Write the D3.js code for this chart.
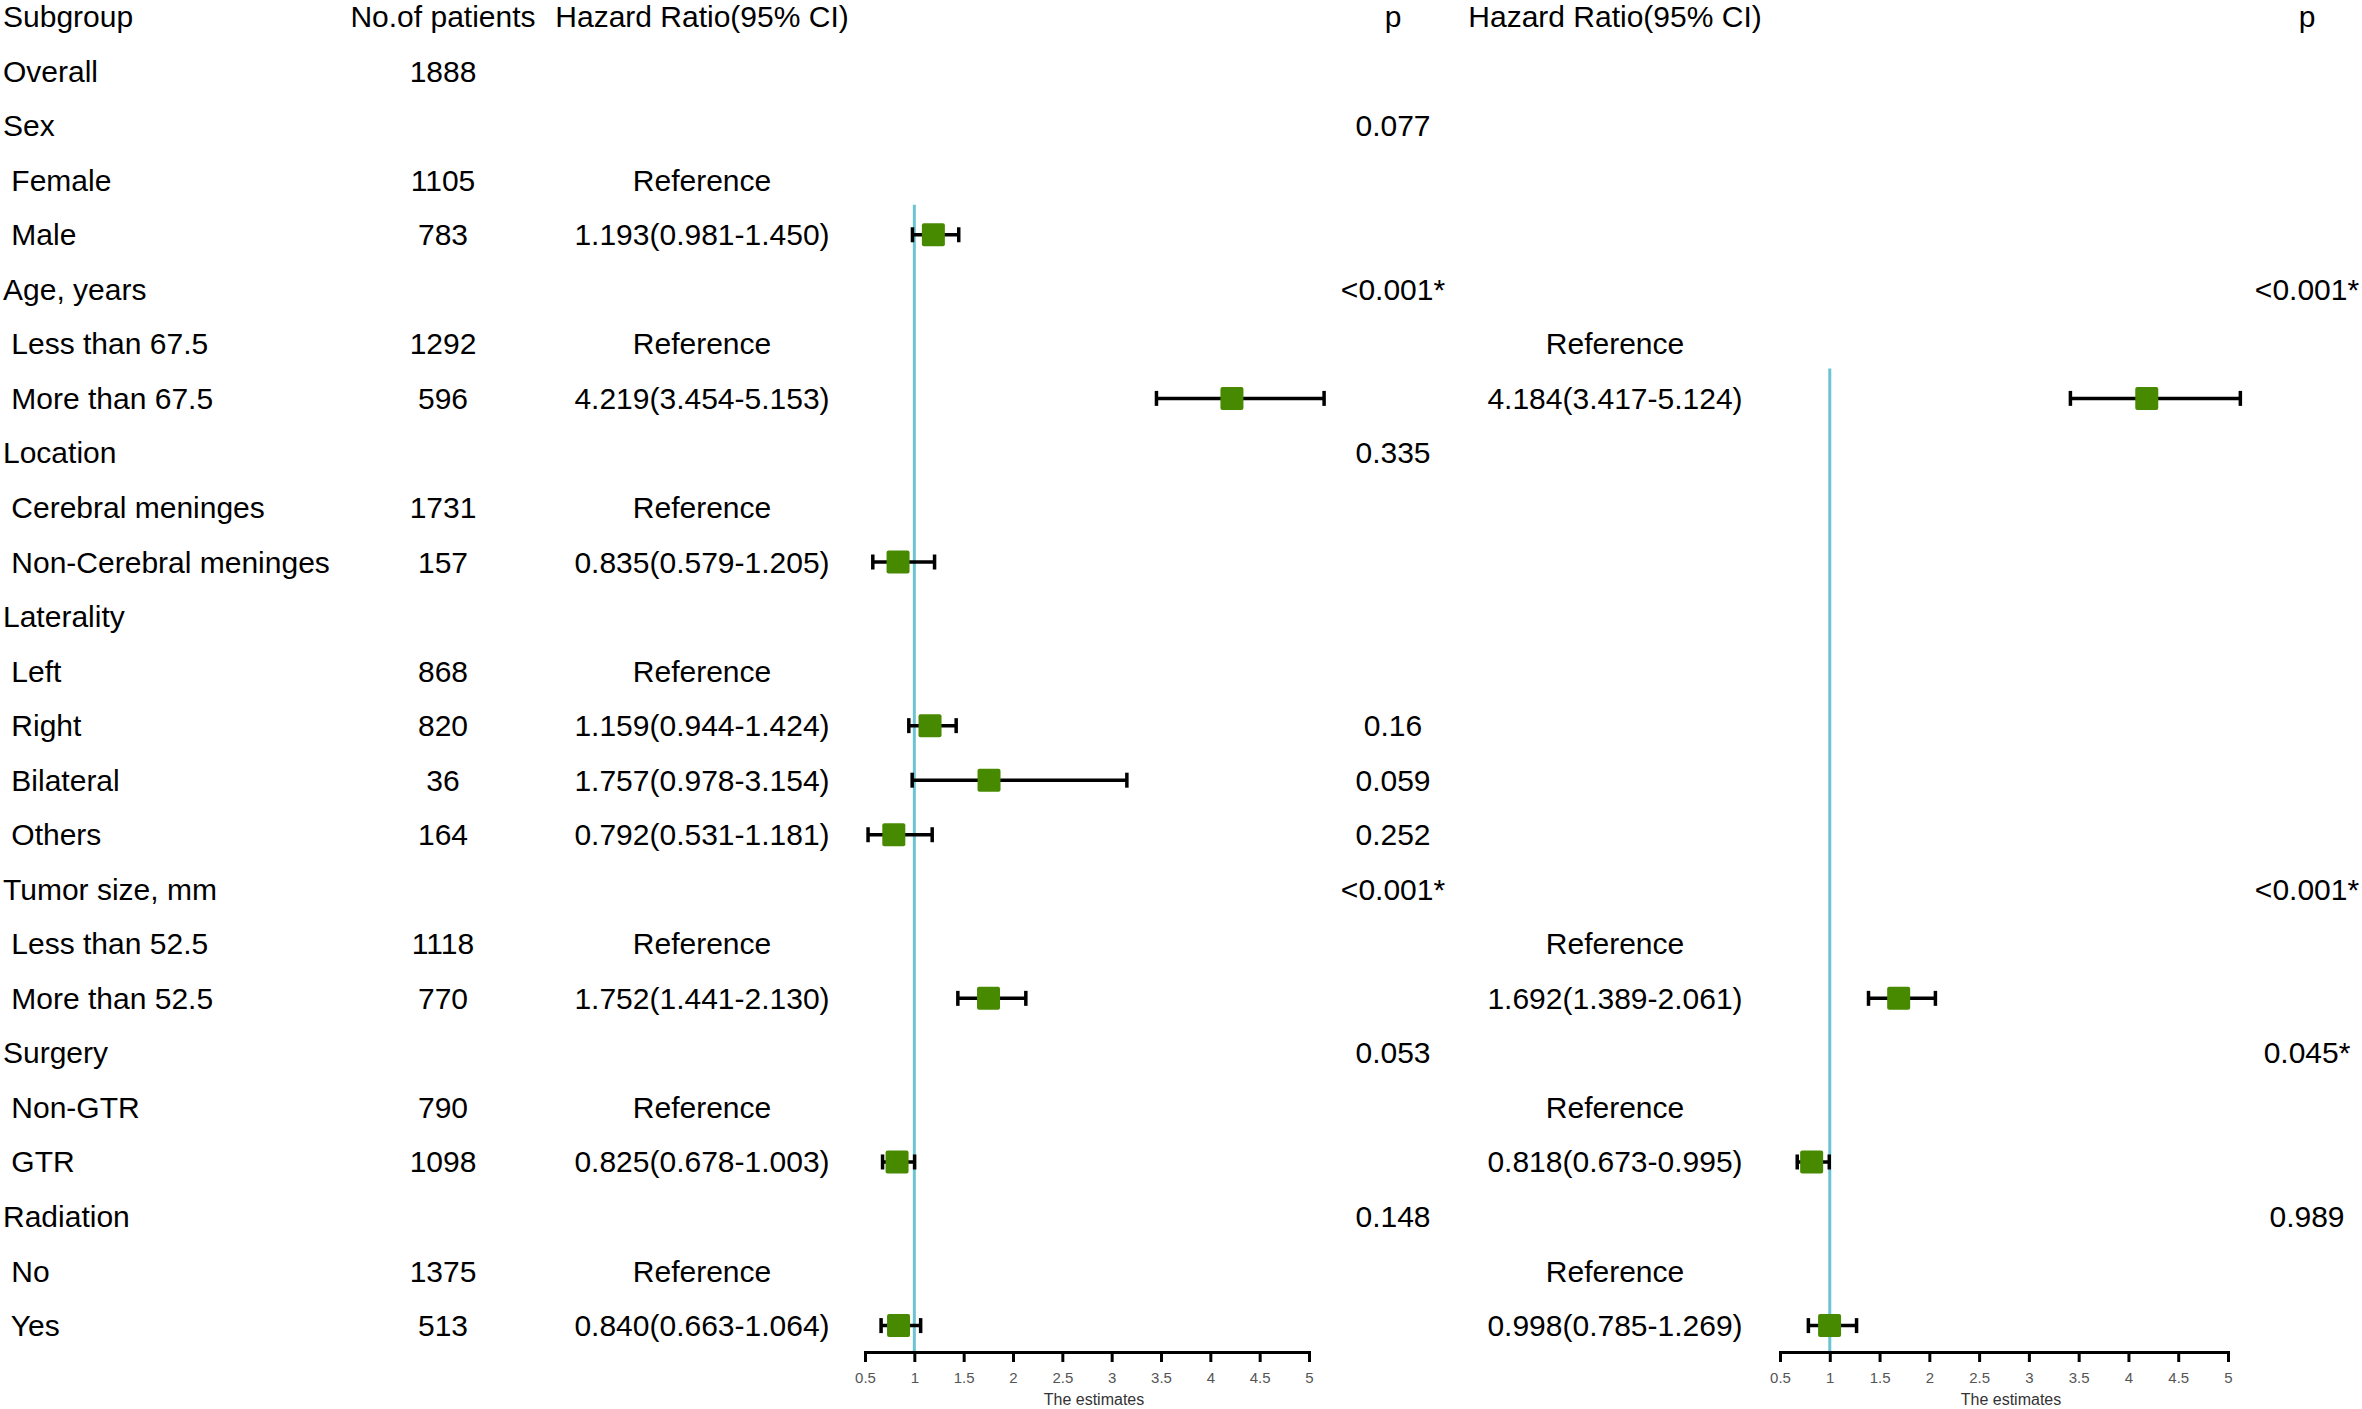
<!DOCTYPE html>
<html>
<head>
<meta charset="utf-8">
<script src="https://cdn.jsdelivr.net/npm/d3@7"></script>
<style>
    body { margin: 0; background: #fff; }
    text { font-family: "Liberation Sans", Arial, sans-serif; white-space: pre; }
</style>
</head>
<body>
<svg id="forest"></svg>
<script>
var headers = ['Subgroup', 'No.of patients', 'Hazard Ratio(95% CI)', 'p', 'Hazard Ratio(95% CI)', 'p'];

var labels = ['Overall', 'Sex', ' Female', ' Male', 'Age, years', ' Less than 67.5', ' More than 67.5',
              'Location', ' Cerebral meninges', ' Non-Cerebral meninges', 'Laterality', ' Left', ' Right',
              ' Bilateral', ' Others', 'Tumor size, mm', ' Less than 52.5', ' More than 52.5', 'Surgery',
              ' Non-GTR', ' GTR', 'Radiation', ' No', ' Yes'];

var patients = ['1888', '', '1105', '783', '', '1292', '596', '', '1731', '157', '', '868', '820',
                '36', '164', '', '1118', '770', '', '790', '1098', '', '1375', '513'];

// univariate
var hrText1 = ['', '', 'Reference', '1.193(0.981-1.450)', '', 'Reference', '4.219(3.454-5.153)', '',
               'Reference', '0.835(0.579-1.205)', '', 'Reference', '1.159(0.944-1.424)',
               '1.757(0.978-3.154)', '0.792(0.531-1.181)', '', 'Reference', '1.752(1.441-2.130)', '',
               'Reference', '0.825(0.678-1.003)', '', 'Reference', '0.840(0.663-1.064)'];
var est1 = [null, null, null, 1.193, null, null, 4.219, null, null, 0.835, null, null, 1.159,
            1.757, 0.792, null, null, 1.752, null, null, 0.825, null, null, 0.840];
var lo1 = [null, null, null, 0.981, null, null, 3.454, null, null, 0.579, null, null, 0.944,
           0.978, 0.531, null, null, 1.441, null, null, 0.678, null, null, 0.663];
var hi1 = [null, null, null, 1.450, null, null, 5.153, null, null, 1.205, null, null, 1.424,
           3.154, 1.181, null, null, 2.130, null, null, 1.003, null, null, 1.064];
var p1 = ['', '0.077', '', '', '<0.001*', '', '', '0.335', '', '', '', '', '0.16', '0.059', '0.252',
          '<0.001*', '', '', '0.053', '', '', '0.148', '', ''];

// multivariate
var hrText2 = ['', '', '', '', '', 'Reference', '4.184(3.417-5.124)', '', '', '', '', '', '', '', '',
               '', 'Reference', '1.692(1.389-2.061)', '', 'Reference', '0.818(0.673-0.995)', '',
               'Reference', '0.998(0.785-1.269)'];
var est2 = [null, null, null, null, null, null, 4.184, null, null, null, null, null, null, null, null,
            null, null, 1.692, null, null, 0.818, null, null, 0.998];
var lo2 = [null, null, null, null, null, null, 3.417, null, null, null, null, null, null, null, null,
           null, null, 1.389, null, null, 0.673, null, null, 0.785];
var hi2 = [null, null, null, null, null, null, 5.124, null, null, null, null, null, null, null, null,
           null, null, 2.061, null, null, 0.995, null, null, 1.269];
var p2 = ['', '', '', '', '<0.001*', '', '', '', '', '', '', '', '', '', '', '<0.001*', '', '',
          '0.045*', '', '', '0.989', '', ''];

var tickValues = [0.5, 1, 1.5, 2, 2.5, 3, 3.5, 4, 4.5, 5];
var axisTitle = 'The estimates';

var width = 2362, height = 1409;
var fontSize = 30;

var svg = d3.select('#forest')
                .attr('width', width)
                .attr('height', height);

var yScale = d3.scalePoint()
                .domain(d3.range(labels.length + 1))
                .range([16.6, 1325.6]);

var axisY = 1352;

function drawColumn(values, x, anchor) {
    svg.append('g')
        .selectAll('text')
        .data(values)
        .enter()
        .append('text')
            .attr('x', x)
            .attr('y', (d, i) => yScale(i + 1))
            .attr('dy', '0.35em')
            .style('font-size', fontSize + 'px')
            .style('text-anchor', anchor)
            .style('fill', '#000')
            .text(d => d);
}

// header row
var headerPos = [[3, 'start'], [443, 'middle'], [702, 'middle'], [1393, 'middle'], [1615, 'middle'], [2307, 'middle']];
svg.append('g')
    .selectAll('text')
    .data(headers)
    .enter()
    .append('text')
        .attr('x', (d, i) => headerPos[i][0])
        .attr('y', yScale(0))
        .attr('dy', '0.35em')
        .style('font-size', fontSize + 'px')
        .style('text-anchor', (d, i) => headerPos[i][1])
        .text(d => d);

drawColumn(labels, 3, 'start');
drawColumn(patients, 443, 'middle');
drawColumn(hrText1, 702, 'middle');
drawColumn(p1, 1393, 'middle');
drawColumn(hrText2, 1615, 'middle');
drawColumn(p2, 2307, 'middle');

function drawForest(range, est, lo, hi) {
    var xScale = d3.scaleLinear()
                    .domain([0.5, 5])
                    .range(range);

    var g = svg.append('g');

    var rows = est.map((d, i) => ({ i: i, est: d, lo: lo[i], hi: hi[i] }))
                  .filter(d => d.est !== null);

    var firstRow = d3.min(rows, d => d.i);

    // reference line at 1
    g.append('line')
        .attr('x1', xScale(1))
        .attr('x2', xScale(1))
        .attr('y1', yScale(firstRow + 1) - 30)
        .attr('y2', axisY)
        .attr('stroke', '#6cc4d2')
        .attr('stroke-width', 3);

    var ci = g.selectAll('.ci')
                .data(rows)
                .enter()
                .append('g')
                    .classed('ci', true)
                    .attr('transform', d => `translate(0, ${yScale(d.i + 1)})`);

    ci.append('line')
        .attr('x1', d => xScale(d.lo))
        .attr('x2', d => xScale(d.hi))
        .attr('stroke', '#000')
        .attr('stroke-width', 3.5);

    ci.selectAll('.cap')
        .data(d => [d.lo, d.hi])
        .enter()
        .append('line')
            .classed('cap', true)
            .attr('x1', d => xScale(d))
            .attr('x2', d => xScale(d))
            .attr('y1', -7.5)
            .attr('y2', 7.5)
            .attr('stroke', '#000')
            .attr('stroke-width', 3.5);

    ci.append('rect')
        .attr('x', d => xScale(d.est) - 11.5)
        .attr('y', -11.5)
        .attr('width', 23)
        .attr('height', 23)
        .attr('rx', 2)
        .attr('fill', '#478a00');

    var xAxis = d3.axisBottom(xScale)
                    .tickValues(tickValues)
                    .tickSize(10)
                    .tickSizeOuter(10)
                    .tickFormat(d3.format('~g'))
                    .tickPadding(10);

    var axis = g.append('g')
                .attr('transform', `translate(0, ${axisY})`)
                .call(xAxis);

    axis.select('.domain')
        .attr('stroke', '#000')
        .attr('stroke-width', 3);
    axis.selectAll('.tick line')
        .attr('stroke', '#000')
        .attr('stroke-width', 3);
    axis.selectAll('.tick text')
        .style('font-size', '15px')
        .style('font-family', '"Liberation Sans", Arial, sans-serif')
        .attr('fill', '#555');

    g.append('text')
        .attr('x', (range[0] + range[1]) / 2 + 7)
        .attr('y', 1399)
        .attr('dy', '0.35em')
        .style('font-size', '16px')
        .style('text-anchor', 'middle')
        .style('fill', '#333')
        .text(axisTitle);
}

drawForest([865, 1309], est1, lo1, hi1);
drawForest([1780, 2228], est2, lo2, hi2);
</script>
</body>
</html>
